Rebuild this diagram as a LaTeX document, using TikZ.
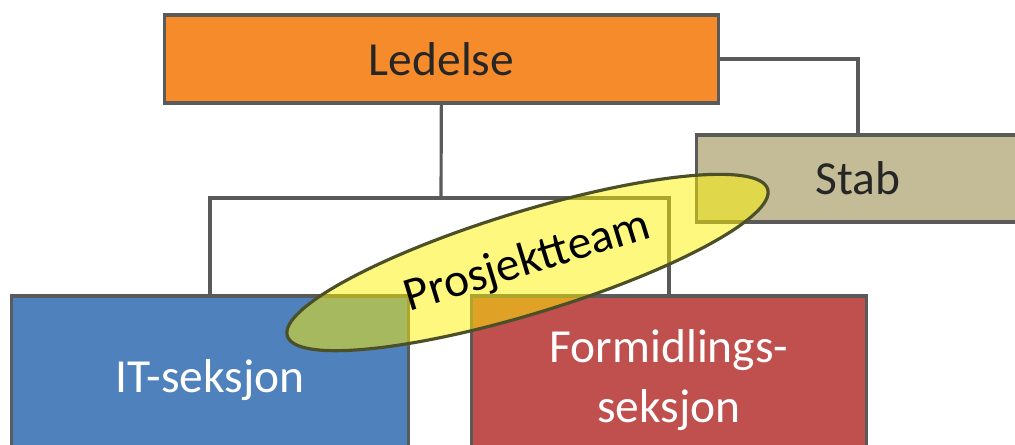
\documentclass[tikz,border=0pt]{standalone}
\usepackage{fontspec}
\setmainfont{Carlito}
\usetikzlibrary{shapes.geometric}
\definecolor{linegray}{HTML}{5A5A5A}
\definecolor{ledelsecol}{HTML}{F68B2B}
\definecolor{stabcol}{HTML}{C4BC96}
\definecolor{itcol}{HTML}{4F81BD}
\definecolor{formcol}{HTML}{C0504D}
\definecolor{teamborder}{HTML}{4B5028}
\begin{document}
\begin{tikzpicture}[x=0.01cm, y=0.01cm, box_style/.style={rectangle,draw=linegray,line width=0.9pt,font=\fontsize{13.5}{17}\selectfont,align=center}, edge_style/.style={draw=linegray,line width=0.9pt}, team_style/.style={ellipse,draw=teamborder,line width=0.9pt,fill=yellow,fill opacity=0.5,text opacity=1,inner sep=0pt,font=\fontsize{13.5}{17}\selectfont}]
  \useasboundingbox (0,0) rectangle (1015,444);
  \clip (0,0) rectangle (1015,444);
  \draw
    (441.5,385) node[box_style,fill=ledelsecol,text=black!85,minimum width=5.53cm,minimum height=0.88cm] (ledelse){Ledelse}
    (858,265.5) node[box_style,fill=stabcol,text=black!85,minimum width=3.22cm,minimum height=0.87cm] (stab){Stab}
    (210,64) node[box_style,fill=itcol,text=white,minimum width=3.96cm,minimum height=1.68cm] (it){IT-seksjon}
    (669,64) node[box_style,fill=formcol,text=white,minimum width=3.94cm,minimum height=1.68cm] (form){Formidlings-\\seksjon};
  \coordinate (branch) at (441,246);
  \draw[edge_style] (ledelse) -- (branch);
  \draw[edge_style] (it.north) |- (branch) -| (form.north);
  \draw[edge_style] (ledelse.east) -| (stab.north);
  \node[team_style,rotate=17,minimum width=5.02cm,minimum height=1.02cm] (team) at (527.5,181.5) {Prosjektteam};
\end{tikzpicture}
\end{document}
